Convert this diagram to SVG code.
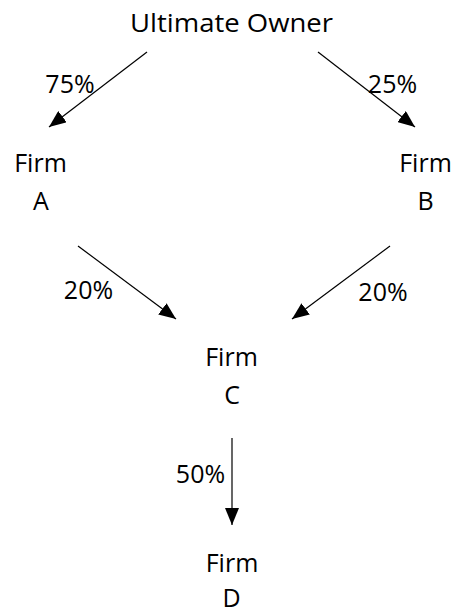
<svg xmlns="http://www.w3.org/2000/svg" width="457" height="613" viewBox="0 0 457 613">
<defs>
<style>
text{font-family:"Open Sans","Liberation Sans",sans-serif;font-size:25px;fill:#000;text-anchor:middle}
.c line{stroke:#000;stroke-width:1.2;marker-end:url(#ah)}
</style>
<marker id="ah" markerUnits="userSpaceOnUse" markerWidth="17" markerHeight="14" viewBox="0 0 17 14" refX="17" refY="7" orient="auto">
<path d="M0,0 L17,7 L0,14 Z" fill="#000"/>
</marker>
</defs>
<rect width="457" height="613" fill="#fff"/>
<g class="c" id="connectors">
<line x1="147" y1="52" x2="49" y2="127"/>
<line x1="318" y1="52" x2="415" y2="127"/>
<line x1="78" y1="246" x2="176" y2="319"/>
<line x1="390" y1="246" x2="292" y2="319"/>
<line x1="232" y1="438" x2="232" y2="525"/>
<g id="labels">
<text x="70" y="93">75%</text>
<text x="392.5" y="93">25%</text>
<text x="88.5" y="299">20%</text>
<text x="383" y="301">20%</text>
<text x="200.5" y="483">50%</text>
</g>
</g>
<g id="owner"><text x="231.5" y="32" textLength="203" lengthAdjust="spacingAndGlyphs">Ultimate Owner</text></g>
<g id="firmA"><text x="40.5" y="172">Firm</text><text x="41" y="210">A</text></g>
<g id="firmB"><text x="425.5" y="172">Firm</text><text x="425.5" y="210">B</text></g>
<g id="firmC"><text x="231.5" y="366">Firm</text><text x="232" y="404">C</text></g>
<g id="firmD"><text x="232" y="572">Firm</text><text x="231.5" y="607">D</text></g>
</svg>
